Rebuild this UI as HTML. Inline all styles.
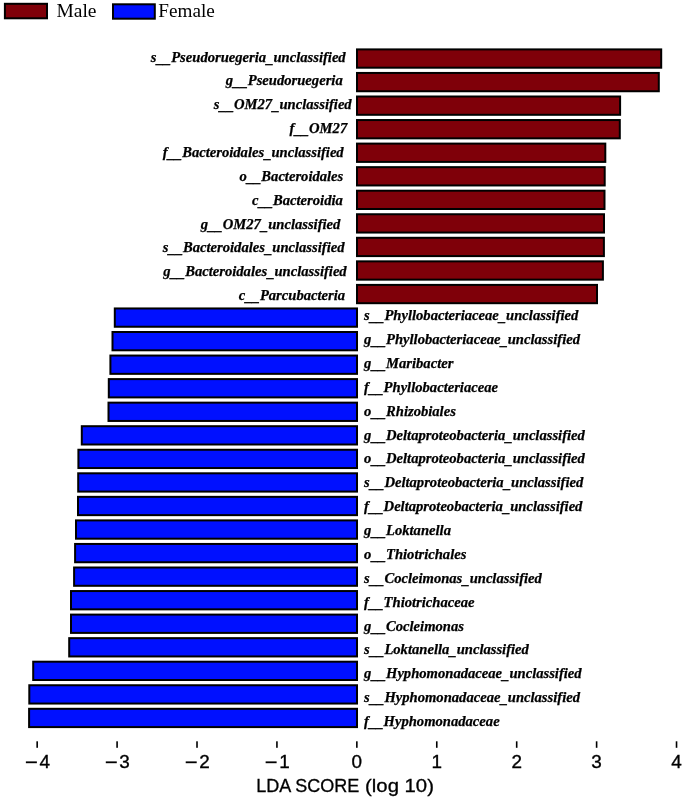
<!DOCTYPE html><html><head><meta charset="utf-8"><style>html,body{margin:0;padding:0;background:#fff;overflow:hidden;}svg{display:block;} .wrap{will-change:transform;width:685px;height:798px;}</style></head><body>
<div class="wrap">
<svg width="685" height="798" viewBox="0 0 685 798">
<rect x="0" y="0" width="685" height="798" fill="#fff"/>
<rect x="4.9" y="3.8" width="42.1" height="14.5" fill="#7f0009" stroke="#000" stroke-width="2"/>
<rect x="113" y="4.3" width="41.8" height="14.4" fill="#0010ff" stroke="#000" stroke-width="2"/>
<g font-family="Liberation Serif, serif" font-size="19.5" fill="#000">
<text x="56.4" y="17.1">Male</text>
<text x="158.3" y="17.4" font-size="19.2">Female</text>
</g>
<rect x="357.00" y="49.40" width="304.20" height="18.30" fill="#7f0009" stroke="#000" stroke-width="2.0"/>
<rect x="357.00" y="72.95" width="301.80" height="18.30" fill="#7f0009" stroke="#000" stroke-width="2.0"/>
<rect x="357.00" y="96.50" width="263.10" height="18.30" fill="#7f0009" stroke="#000" stroke-width="2.0"/>
<rect x="357.00" y="120.05" width="262.80" height="18.30" fill="#7f0009" stroke="#000" stroke-width="2.0"/>
<rect x="357.00" y="143.60" width="248.30" height="18.30" fill="#7f0009" stroke="#000" stroke-width="2.0"/>
<rect x="357.00" y="167.15" width="247.70" height="18.30" fill="#7f0009" stroke="#000" stroke-width="2.0"/>
<rect x="357.00" y="190.70" width="247.50" height="18.30" fill="#7f0009" stroke="#000" stroke-width="2.0"/>
<rect x="357.00" y="214.25" width="247.00" height="18.30" fill="#7f0009" stroke="#000" stroke-width="2.0"/>
<rect x="357.00" y="237.80" width="246.90" height="18.30" fill="#7f0009" stroke="#000" stroke-width="2.0"/>
<rect x="357.00" y="261.35" width="245.90" height="18.30" fill="#7f0009" stroke="#000" stroke-width="2.0"/>
<rect x="357.00" y="284.90" width="240.00" height="18.30" fill="#7f0009" stroke="#000" stroke-width="2.0"/>
<rect x="114.80" y="308.45" width="242.20" height="18.30" fill="#0010ff" stroke="#000" stroke-width="2.0"/>
<rect x="112.50" y="332.00" width="244.50" height="18.30" fill="#0010ff" stroke="#000" stroke-width="2.0"/>
<rect x="110.40" y="355.55" width="246.60" height="18.30" fill="#0010ff" stroke="#000" stroke-width="2.0"/>
<rect x="108.80" y="379.10" width="248.20" height="18.30" fill="#0010ff" stroke="#000" stroke-width="2.0"/>
<rect x="108.50" y="402.65" width="248.50" height="18.30" fill="#0010ff" stroke="#000" stroke-width="2.0"/>
<rect x="81.80" y="426.20" width="275.20" height="18.30" fill="#0010ff" stroke="#000" stroke-width="2.0"/>
<rect x="78.40" y="449.75" width="278.60" height="18.30" fill="#0010ff" stroke="#000" stroke-width="2.0"/>
<rect x="78.20" y="473.30" width="278.80" height="18.30" fill="#0010ff" stroke="#000" stroke-width="2.0"/>
<rect x="78.00" y="496.85" width="279.00" height="18.30" fill="#0010ff" stroke="#000" stroke-width="2.0"/>
<rect x="76.00" y="520.40" width="281.00" height="18.30" fill="#0010ff" stroke="#000" stroke-width="2.0"/>
<rect x="75.10" y="543.95" width="281.90" height="18.30" fill="#0010ff" stroke="#000" stroke-width="2.0"/>
<rect x="74.10" y="567.50" width="282.90" height="18.30" fill="#0010ff" stroke="#000" stroke-width="2.0"/>
<rect x="71.00" y="591.05" width="286.00" height="18.30" fill="#0010ff" stroke="#000" stroke-width="2.0"/>
<rect x="71.00" y="614.60" width="286.00" height="18.30" fill="#0010ff" stroke="#000" stroke-width="2.0"/>
<rect x="69.20" y="638.15" width="287.80" height="18.30" fill="#0010ff" stroke="#000" stroke-width="2.0"/>
<rect x="33.20" y="661.70" width="323.80" height="18.30" fill="#0010ff" stroke="#000" stroke-width="2.0"/>
<rect x="29.30" y="685.25" width="327.70" height="18.30" fill="#0010ff" stroke="#000" stroke-width="2.0"/>
<rect x="29.10" y="708.80" width="327.90" height="18.30" fill="#0010ff" stroke="#000" stroke-width="2.0"/>
<g font-family="Liberation Serif, serif" font-weight="bold" font-style="italic" font-size="14.62" fill="#000" stroke="#000" stroke-width="0.25">
<text x="345.70" y="61.50" text-anchor="end">s<tspan dy="1.0">__</tspan><tspan dy="-1.0">Pseudoruegeria</tspan><tspan dy="1.0">_</tspan><tspan dy="-1.0">unclassified</tspan></text>
<text x="342.70" y="84.80" text-anchor="end">g<tspan dy="1.0">__</tspan><tspan dy="-1.0">Pseudoruegeria</tspan></text>
<text x="351.70" y="108.90" text-anchor="end">s<tspan dy="1.0">__</tspan><tspan dy="-1.0">OM27</tspan><tspan dy="1.0">_</tspan><tspan dy="-1.0">unclassified</tspan></text>
<text x="347.20" y="133.10" text-anchor="end">f<tspan dy="1.0">__</tspan><tspan dy="-1.0">OM27</tspan></text>
<text x="343.70" y="156.50" text-anchor="end">f<tspan dy="1.0">__</tspan><tspan dy="-1.0">Bacteroidales</tspan><tspan dy="1.0">_</tspan><tspan dy="-1.0">unclassified</tspan></text>
<text x="343.30" y="180.80" text-anchor="end">o<tspan dy="1.0">__</tspan><tspan dy="-1.0">Bacteroidales</tspan></text>
<text x="342.80" y="204.70" text-anchor="end">c<tspan dy="1.0">__</tspan><tspan dy="-1.0">Bacteroidia</tspan></text>
<text x="340.40" y="228.60" text-anchor="end">g<tspan dy="1.0">__</tspan><tspan dy="-1.0">OM27</tspan><tspan dy="1.0">_</tspan><tspan dy="-1.0">unclassified</tspan></text>
<text x="344.50" y="252.30" text-anchor="end">s<tspan dy="1.0">__</tspan><tspan dy="-1.0">Bacteroidales</tspan><tspan dy="1.0">_</tspan><tspan dy="-1.0">unclassified</tspan></text>
<text x="346.70" y="275.80" text-anchor="end">g<tspan dy="1.0">__</tspan><tspan dy="-1.0">Bacteroidales</tspan><tspan dy="1.0">_</tspan><tspan dy="-1.0">unclassified</tspan></text>
<text x="345.10" y="299.75" text-anchor="end">c<tspan dy="1.0">__</tspan><tspan dy="-1.0">Parcubacteria</tspan></text>
<text x="364.1" y="320.30">s<tspan dy="1.0">__</tspan><tspan dy="-1.0">Phyllobacteriaceae</tspan><tspan dy="1.0">_</tspan><tspan dy="-1.0">unclassified</tspan></text>
<text x="364.1" y="344.17">g<tspan dy="1.0">__</tspan><tspan dy="-1.0">Phyllobacteriaceae</tspan><tspan dy="1.0">_</tspan><tspan dy="-1.0">unclassified</tspan></text>
<text x="364.1" y="368.03">g<tspan dy="1.0">__</tspan><tspan dy="-1.0">Maribacter</tspan></text>
<text x="364.1" y="391.89">f<tspan dy="1.0">__</tspan><tspan dy="-1.0">Phyllobacteriaceae</tspan></text>
<text x="364.1" y="415.76">o<tspan dy="1.0">__</tspan><tspan dy="-1.0">Rhizobiales</tspan></text>
<text x="364.1" y="439.62">g<tspan dy="1.0">__</tspan><tspan dy="-1.0">Deltaproteobacteria</tspan><tspan dy="1.0">_</tspan><tspan dy="-1.0">unclassified</tspan></text>
<text x="364.1" y="463.49">o<tspan dy="1.0">__</tspan><tspan dy="-1.0">Deltaproteobacteria</tspan><tspan dy="1.0">_</tspan><tspan dy="-1.0">unclassified</tspan></text>
<text x="364.1" y="487.36">s<tspan dy="1.0">__</tspan><tspan dy="-1.0">Deltaproteobacteria</tspan><tspan dy="1.0">_</tspan><tspan dy="-1.0">unclassified</tspan></text>
<text x="364.1" y="511.22">f<tspan dy="1.0">__</tspan><tspan dy="-1.0">Deltaproteobacteria</tspan><tspan dy="1.0">_</tspan><tspan dy="-1.0">unclassified</tspan></text>
<text x="364.1" y="535.09">g<tspan dy="1.0">__</tspan><tspan dy="-1.0">Loktanella</tspan></text>
<text x="364.1" y="558.95">o<tspan dy="1.0">__</tspan><tspan dy="-1.0">Thiotrichales</tspan></text>
<text x="364.1" y="582.82">s<tspan dy="1.0">__</tspan><tspan dy="-1.0">Cocleimonas</tspan><tspan dy="1.0">_</tspan><tspan dy="-1.0">unclassified</tspan></text>
<text x="364.1" y="606.68">f<tspan dy="1.0">__</tspan><tspan dy="-1.0">Thiotrichaceae</tspan></text>
<text x="364.1" y="630.55">g<tspan dy="1.0">__</tspan><tspan dy="-1.0">Cocleimonas</tspan></text>
<text x="364.1" y="654.41">s<tspan dy="1.0">__</tspan><tspan dy="-1.0">Loktanella</tspan><tspan dy="1.0">_</tspan><tspan dy="-1.0">unclassified</tspan></text>
<text x="364.1" y="678.27">g<tspan dy="1.0">__</tspan><tspan dy="-1.0">Hyphomonadaceae</tspan><tspan dy="1.0">_</tspan><tspan dy="-1.0">unclassified</tspan></text>
<text x="364.1" y="702.14">s<tspan dy="1.0">__</tspan><tspan dy="-1.0">Hyphomonadaceae</tspan><tspan dy="1.0">_</tspan><tspan dy="-1.0">unclassified</tspan></text>
<text x="364.1" y="726.00">f<tspan dy="1.0">__</tspan><tspan dy="-1.0">Hyphomonadaceae</tspan></text>
</g>
<rect x="36.37" y="741.3" width="1.6" height="6.5" fill="#000"/>
<rect x="25.87" y="761.4" width="11" height="1.8" fill="#000"/>
<text x="44.67" y="767.5" text-anchor="middle" font-family="Liberation Sans, sans-serif" font-size="18.9" fill="#000" stroke="#000" stroke-width="0.35">4</text>
<rect x="116.29" y="741.3" width="1.6" height="6.5" fill="#000"/>
<rect x="105.79" y="761.4" width="11" height="1.8" fill="#000"/>
<text x="124.59" y="767.5" text-anchor="middle" font-family="Liberation Sans, sans-serif" font-size="18.9" fill="#000" stroke="#000" stroke-width="0.35">3</text>
<rect x="196.21" y="741.3" width="1.6" height="6.5" fill="#000"/>
<rect x="185.71" y="761.4" width="11" height="1.8" fill="#000"/>
<text x="204.51" y="767.5" text-anchor="middle" font-family="Liberation Sans, sans-serif" font-size="18.9" fill="#000" stroke="#000" stroke-width="0.35">2</text>
<rect x="276.13" y="741.3" width="1.6" height="6.5" fill="#000"/>
<rect x="265.63" y="761.4" width="11" height="1.8" fill="#000"/>
<text x="284.43" y="767.5" text-anchor="middle" font-family="Liberation Sans, sans-serif" font-size="18.9" fill="#000" stroke="#000" stroke-width="0.35">1</text>
<rect x="356.05" y="741.3" width="1.6" height="6.5" fill="#000"/>
<text x="356.85" y="767.5" text-anchor="middle" font-family="Liberation Sans, sans-serif" font-size="18.9" fill="#000" stroke="#000" stroke-width="0.35">0</text>
<rect x="435.97" y="741.3" width="1.6" height="6.5" fill="#000"/>
<text x="436.77" y="767.5" text-anchor="middle" font-family="Liberation Sans, sans-serif" font-size="18.9" fill="#000" stroke="#000" stroke-width="0.35">1</text>
<rect x="515.89" y="741.3" width="1.6" height="6.5" fill="#000"/>
<text x="516.69" y="767.5" text-anchor="middle" font-family="Liberation Sans, sans-serif" font-size="18.9" fill="#000" stroke="#000" stroke-width="0.35">2</text>
<rect x="595.81" y="741.3" width="1.6" height="6.5" fill="#000"/>
<text x="596.61" y="767.5" text-anchor="middle" font-family="Liberation Sans, sans-serif" font-size="18.9" fill="#000" stroke="#000" stroke-width="0.35">3</text>
<rect x="675.73" y="741.3" width="1.6" height="6.5" fill="#000"/>
<text x="676.53" y="767.5" text-anchor="middle" font-family="Liberation Sans, sans-serif" font-size="18.9" fill="#000" stroke="#000" stroke-width="0.35">4</text>
<text y="791.9" font-family="Liberation Sans, sans-serif" font-size="18" fill="#000" stroke="#000" stroke-width="0.3"><tspan x="256.16">LDA SCORE</tspan> <tspan x="365.08" textLength="68.85" lengthAdjust="spacingAndGlyphs">(log 10)</tspan></text>
</svg></div></body></html>
